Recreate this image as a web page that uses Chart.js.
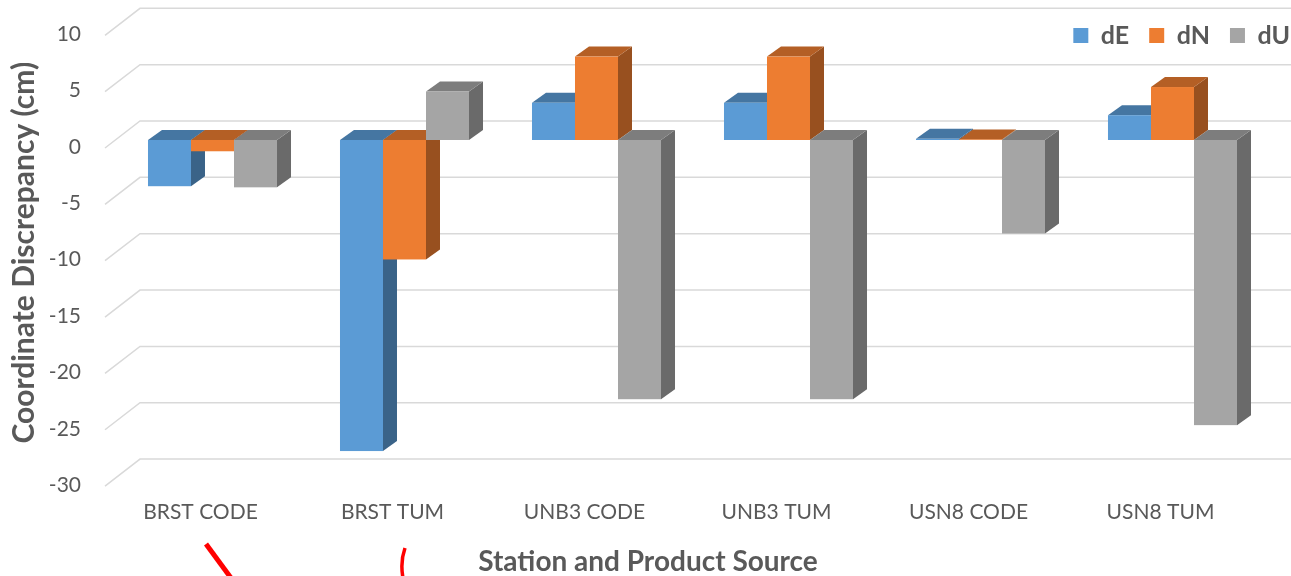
<!DOCTYPE html>
<html>
<head>
<meta charset="utf-8">
<script src="https://cdn.jsdelivr.net/npm/chart.js@4/dist/chart.umd.min.js"></script>
<style>
  html, body { margin: 0; padding: 0; background: #fff; }
</style>
</head>
<body>
<canvas id="discrepancyChart" width="1291" height="576"></canvas>
<script>
// Coordinate discrepancies (cm) per station / product source
const stations = ["BRST CODE", "BRST TUM", "UNB3 CODE", "UNB3 TUM", "USN8 CODE", "USN8 TUM"];
const dE = [-4.1, -27.6, 3.3, 3.3, 0.1, 2.2];
const dN = [-1.0, -10.6, 7.4, 7.4, 0.05, 4.7];
const dU = [-4.2, 4.3, -23.0, -23.0, -8.3, -25.3];
const yTicks = [10, 5, 0, -5, -10, -15, -20, -25, -30];

const textColor = "#595959";
const fontFamily = "Lato, 'Open Sans', sans-serif";

// darken a hex colour by factor k
function shade(hex, k) {
    const n = parseInt(hex.slice(1), 16);
    const r = Math.round(((n >> 16) & 255) * k);
    const g = Math.round(((n >> 8) & 255) * k);
    const b = Math.round((n & 255) * k);
    return `rgb(${r},${g},${b})`;
}

// depth of each column and of the floor grid
const barDepth = { dx: 14, dy: 10 };
const gridDepth = { dx: 35, front: 8, back: -19 };

const pseudo3d = {
    id: "pseudo3d",
    afterLayout(chart) {
        // legend sits inside the plot, top right
        const lg = chart.legend;
        lg.top = 3;
        lg.bottom = lg.top + 50;
        lg.height = 50;
        lg.left = 0;
        lg.right = 1310;
        lg.width = 1310;
    },
    beforeDatasetsDraw(chart) {
        const { ctx, chartArea } = chart;
        const yScale = chart.scales.y;

        // grid: short slanted floor edge, then the back wall line
        ctx.save();
        ctx.strokeStyle = "#d9d9d9";
        ctx.lineWidth = 1.5;
        yScale.ticks.forEach(t => {
            const py = yScale.getPixelForValue(t.value);
            ctx.beginPath();
            ctx.moveTo(chartArea.left, py + gridDepth.front);
            ctx.lineTo(chartArea.left + gridDepth.dx, py + gridDepth.back);
            ctx.lineTo(chart.width, py + gridDepth.back);
            ctx.stroke();
        });

        // columns, drawn left to right so front faces cover neighbouring sides
        const metas = chart.data.datasets.map((_, i) => chart.getDatasetMeta(i));
        for (let i = 0; i < stations.length; i++) {
            metas.forEach((meta, d) => {
                const bar = meta.data[i];
                const { x, y, base, width } = bar.getProps(["x", "y", "base", "width"], true);
                const color = chart.data.datasets[d].backgroundColor;
                const x0 = x - width / 2, x1 = x + width / 2;
                const top = Math.min(y, base), bottom = Math.max(y, base);
                const { dx, dy } = barDepth;

                // right side
                ctx.fillStyle = shade(color, 0.64);
                ctx.beginPath();
                ctx.moveTo(x1, top);
                ctx.lineTo(x1 + dx, top - dy);
                ctx.lineTo(x1 + dx, bottom - dy);
                ctx.lineTo(x1, bottom);
                ctx.closePath();
                ctx.fill();

                // top
                ctx.fillStyle = shade(color, 0.76);
                ctx.beginPath();
                ctx.moveTo(x0, top);
                ctx.lineTo(x0 + dx, top - dy);
                ctx.lineTo(x1 + dx, top - dy);
                ctx.lineTo(x1, top);
                ctx.closePath();
                ctx.fill();

                // front
                ctx.fillStyle = color;
                ctx.fillRect(x0, top, width, bottom - top);
            });
        }
        ctx.restore();
        return false;
    },
    afterDraw(chart) {
        // red pen marks under the first two labels
        const { ctx } = chart;
        ctx.save();
        ctx.strokeStyle = "#ff0000";
        ctx.lineCap = "butt";
        ctx.lineWidth = 5;
        ctx.beginPath();
        ctx.moveTo(206, 544);
        ctx.lineTo(231, 578);
        ctx.stroke();
        ctx.lineWidth = 3.5;
        ctx.beginPath();
        ctx.moveTo(405, 548);
        ctx.quadraticCurveTo(400, 562, 403, 578);
        ctx.stroke();
        ctx.restore();
    }
};

const toPoints = arr => arr.map((v, i) => ({ x: i, y: v }));

const ctx = document.getElementById("discrepancyChart").getContext("2d");
new Chart(ctx, {
    type: "bar",
    data: {
        datasets: [
            { label: "dE", data: toPoints(dE), backgroundColor: "#5b9bd5", borderWidth: 0 },
            { label: "dN", data: toPoints(dN), backgroundColor: "#ed7d31", borderWidth: 0 },
            { label: "dU", data: toPoints(dU), backgroundColor: "#a5a5a5", borderWidth: 0 }
        ]
    },
    options: {
        responsive: false,
        animation: false,
        layout: { padding: { top: 26.3, right: 100, left: 0, bottom: 0 } },
        datasets: {
            bar: { categoryPercentage: 0.672, barPercentage: 1 }
        },
        plugins: {
            tooltip: { enabled: false },
            legend: {
                position: "top",
                align: "end",
                maxHeight: 1,
                labels: {
                    boxWidth: 15,
                    boxHeight: 15,
                    padding: 20,
                    color: textColor,
                    font: { family: fontFamily, size: 25, weight: "bold" }
                }
            }
        },
        scales: {
            x: {
                type: "linear",
                offset: false,
                min: -0.5599,
                max: 5.0964,
                afterFit: s => { s.height = 97.9; s.paddingLeft = 0; s.paddingRight = 0; },
                grid: { display: false },
                border: { display: false },
                ticks: {
                    stepSize: 1,
                    includeBounds: false,
                    autoSkip: false,
                    maxRotation: 0,
                    labelOffset: -12,
                    padding: 14,
                    color: textColor,
                    font: { family: fontFamily, size: 21 },
                    callback: v => stations[v] ?? ""
                },
                title: {
                    display: true,
                    text: "Station and Product Source",
                    color: textColor,
                    font: { family: fontFamily, size: 28, weight: "bold" },
                    padding: { top: 0, bottom: -3 }
                }
            },
            y: {
                min: -30,
                max: 10,
                afterFit: s => { s.width = 105; s.paddingTop = 0; s.paddingBottom = 0; },
                afterBuildTicks: s => { s.ticks = yTicks.map(v => ({ value: v })); },
                grid: { display: false, drawTicks: false },
                border: { display: false },
                ticks: {
                    padding: 24,
                    labelOffset: 7,
                    color: textColor,
                    font: { family: fontFamily, size: 21 }
                },
                title: {
                    display: true,
                    text: "Coordinate Discrepancy (cm)",
                    color: textColor,
                    font: { family: fontFamily, size: 30, weight: "bold" },
                    padding: { top: 6, bottom: 0 }
                }
            }
        }
    },
    plugins: [pseudo3d]
});
</script>
</body>
</html>
